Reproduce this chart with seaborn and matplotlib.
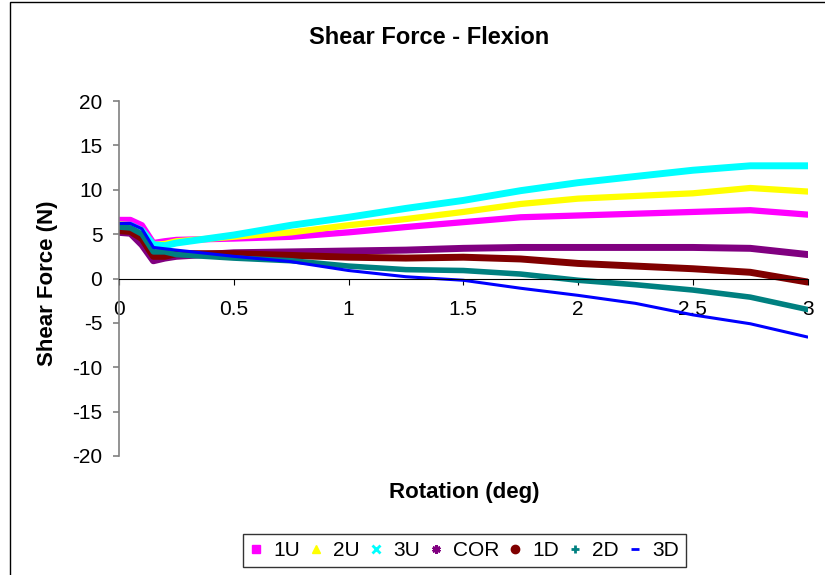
import numpy as np
import pandas as pd
import seaborn as sns
import matplotlib.pyplot as plt
from matplotlib.lines import Line2D
from matplotlib.patches import Rectangle

rotation = [0.0, 0.05, 0.1, 0.15, 0.2, 0.25, 0.5, 0.75, 1.0, 1.25,
            1.5, 1.75, 2.0, 2.25, 2.5, 2.75, 3.0]

# shear force (N) for each specimen position
f_1u = [6.6, 6.6, 6.0, 4.0, 4.2, 4.35, 4.5, 4.7, 5.2, 5.8,
        6.35, 6.9, 7.1, 7.3, 7.5, 7.7, 7.2]
f_2u = [6.1, 6.0, 5.4, 3.8, 3.9, 4.2, 4.7, 5.2, 6.0, 6.7,
        7.5, 8.4, 9.0, 9.3, 9.6, 10.2, 9.8]
f_3u = [6.0, 6.0, 5.4, 3.8, 3.7, 4.0, 4.9, 6.0, 6.9, 7.9,
        8.8, 9.9, 10.8, 11.5, 12.2, 12.7, 12.7]
f_cor = [5.2, 5.1, 3.8, 2.0, 2.3, 2.5, 2.9, 3.0, 3.1, 3.2,
         3.4, 3.5, 3.5, 3.5, 3.5, 3.4, 2.7]
f_1d = [5.4, 5.3, 4.5, 2.5, 2.5, 2.8, 2.8, 2.6, 2.4, 2.3,
        2.4, 2.2, 1.7, 1.4, 1.1, 0.7, -0.4]
f_2d = [5.8, 5.7, 5.0, 3.0, 3.0, 2.7, 2.3, 2.0, 1.4, 1.0,
        0.9, 0.5, -0.2, -0.7, -1.3, -2.1, -3.5]
f_3d = [6.2, 6.2, 5.6, 3.5, 3.35, 3.2, 2.5, 1.9, 0.9, 0.2,
        -0.2, -1.1, -1.9, -2.8, -4.1, -5.1, -6.6]

series_names = ["1U", "2U", "3U", "COR", "1D", "2D", "3D"]
series_values = [f_1u, f_2u, f_3u, f_cor, f_1d, f_2d, f_3d]

colors = ["#FF00FF", "#FFFF00", "#00FFFF", "#800080", "#800000", "#008080", "#0000FF"]
markers = ["s", "^", "x", (6, 2, 0), "o", "+", "_"]
band_widths = [4.5, 4.5, 5.0, 5.0, 5.0, 4.0, 2.2]

plt.rcParams["font.family"] = ["Liberation Sans", "DejaVu Sans"]
plt.rcParams["axes.unicode_minus"] = False

fig = plt.figure(figsize=(8.25, 5.75), dpi=100)
ax = fig.add_axes([0.1442, 0.2070, 0.8348, 0.6173])

for name, vals, col, w in zip(series_names, series_values, colors, band_widths):
    df = pd.DataFrame({"rotation": rotation, "force": vals})
    sns.lineplot(data=df, x="rotation", y="force", color=col, linewidth=w,
                 sort=False, ax=ax, legend=False, solid_capstyle="round")

ax.set_xlim(0, 3)
ax.set_ylim(-20, 20)
ax.set_yticks(np.arange(-20, 21, 5))
ax.set_xticks(np.arange(0, 3.01, 0.5))
ax.set_xticklabels(["0", "0.5", "1", "1.5", "2", "2.5", "3"])

# Excel style axes: x axis crosses at y = 0
ax.spines["top"].set_visible(False)
ax.spines["right"].set_visible(False)
ax.spines["bottom"].set_position(("data", 0))
ax.spines["bottom"].set_color("black")
ax.spines["left"].set_color("#808080")
ax.spines["left"].set_linewidth(1.2)
ax.tick_params(axis="y", direction="out", length=4, width=1.2, color="#808080",
               labelsize=15, pad=8)
ax.tick_params(axis="x", direction="out", length=4, color="black",
               labelsize=15, pad=11.5)

ax.set_xlabel("")
ax.set_ylabel("")
fig.text(0.52, 0.934, "Shear Force - Flexion", ha="center", va="center",
         fontsize=17, fontweight="bold")
fig.text(0.5624, 0.1443, "Rotation (deg)", ha="center", va="center",
         fontsize=16, fontweight="bold")
fig.text(0.057, 0.508, "Shear Force (N)", ha="center", va="center",
         fontsize=16, fontweight="bold", rotation=90)

handles = [Line2D([], [], linestyle="none", marker=m, color=c, markersize=6,
                  markeredgewidth=2 if m in ("x", "+", "_", (6, 2, 0)) else 1)
           for m, c in zip(markers, colors)]
leg = fig.legend(handles, series_names, loc="center", bbox_to_anchor=(0.563, 0.0426),
                 ncol=7, fontsize=15, frameon=True, fancybox=False,
                 handlelength=0.6, handletextpad=0.52, columnspacing=0.47,
                 borderpad=0.35)
leg.get_frame().set_edgecolor("black")
leg.get_frame().set_linewidth(1.0)

# outer chart border (only top and left fall inside the image)
fig.patches.append(Rectangle((0.0121, -0.1), 1.2, 1.0957, transform=fig.transFigure,
                             fill=False, edgecolor="black", linewidth=1.0))

fig.savefig("out.png", dpi=100)
